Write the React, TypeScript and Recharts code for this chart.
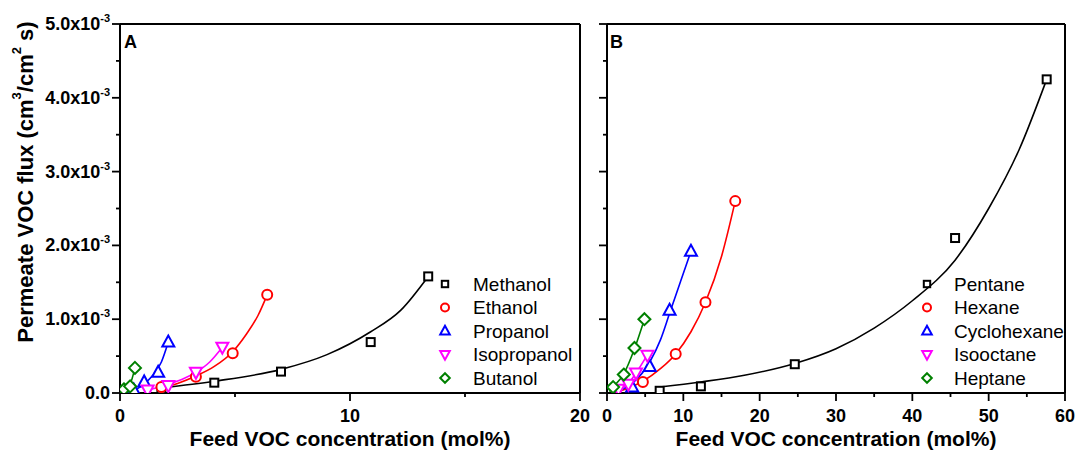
import React from 'react';
import { ComposedChart, Line, Scatter, XAxis, YAxis, ReferenceLine, Customized } from 'recharts';

type Pt = [number, number];

// Flux values are in units of 10^-3 cm3/cm2 s; concentrations in mol%
// Panel A (alcohols) – measured points
const methanolPts: Pt[] = [[1.8, 0.05], [4.1, 0.14], [7.0, 0.29], [10.9, 0.69], [13.4, 1.58]];
const ethanolPts: Pt[] = [[1.8, 0.08], [3.3, 0.22], [4.9, 0.54], [6.4, 1.33]];
const propanolPts: Pt[] = [[0.6, 0.04], [1.05, 0.15], [1.66, 0.28], [2.1, 0.69]];
const isopropanolPts: Pt[] = [[1.2, 0.04], [2.1, 0.10], [3.3, 0.28], [4.45, 0.62]];
const butanolPts: Pt[] = [[0.17, 0.05], [0.44, 0.09], [0.65, 0.34]];

// Panel A – fitted curves
const methanolFit: Pt[] = [[1.8, 0.07], [4.1, 0.16], [7.0, 0.32], [9.0, 0.52], [10.9, 0.83], [12.2, 1.12], [13.4, 1.58]];
const ethanolFit: Pt[] = [[1.8, 0.07], [2.5, 0.13], [3.3, 0.23], [4.1, 0.36], [4.9, 0.56], [5.5, 0.80], [6.0, 1.05], [6.4, 1.33]];
const propanolFit: Pt[] = [[0.6, 0.03], [1.0, 0.11], [1.4, 0.23], [1.8, 0.42], [2.1, 0.69]];
const isopropanolFit: Pt[] = [[1.2, 0.04], [2.1, 0.12], [2.8, 0.20], [3.3, 0.28], [3.9, 0.42], [4.45, 0.62]];
const butanolFit: Pt[] = [[0.17, 0.04], [0.44, 0.12], [0.65, 0.34]];

// Panel B (hydrocarbons) – measured points
const pentanePts: Pt[] = [[6.9, 0.03], [12.3, 0.09], [24.6, 0.39], [45.6, 2.1], [57.6, 4.25]];
const hexanePts: Pt[] = [[4.7, 0.15], [9.0, 0.53], [12.9, 1.23], [16.8, 2.6]];
const cyclohexanePts: Pt[] = [[3.3, 0.08], [5.6, 0.36], [8.2, 1.12], [11.0, 1.92]];
const isooctanePts: Pt[] = [[1.5, 0.05], [2.8, 0.12], [3.8, 0.27], [5.3, 0.51]];
const heptanePts: Pt[] = [[0.8, 0.08], [2.2, 0.25], [3.6, 0.61], [4.9, 1.0]];

// Panel B – fitted curves
const pentaneFit: Pt[] = [[6.9, 0.08], [12.3, 0.15], [18, 0.24], [24.6, 0.40], [30, 0.60], [35, 0.88], [40, 1.25], [45.6, 1.80], [50, 2.5], [54, 3.3], [57.6, 4.25]];
const hexaneFit: Pt[] = [[1.5, 0.02], [4.7, 0.16], [7, 0.33], [9, 0.53], [11, 0.83], [12.9, 1.23], [15, 1.85], [16.8, 2.6]];
const cyclohexaneFit: Pt[] = [[1.2, 0.02], [3.3, 0.13], [5.6, 0.42], [7, 0.72], [8.2, 1.08], [9.6, 1.5], [11, 1.92]];
const isooctaneFit: Pt[] = [[1.0, 0.03], [2.8, 0.13], [3.8, 0.27], [5.3, 0.52]];
const heptaneFit: Pt[] = [[0.3, 0.02], [0.8, 0.08], [2.2, 0.26], [3.6, 0.60], [4.9, 1.0]];

const yTicks = [0, 0.5, 1, 1.5, 2, 2.5, 3, 3.5, 4, 4.5, 5];
const xTicksA = [0, 5, 10, 15, 20];
const xTicksB = [0, 5, 10, 15, 20, 25, 30, 35, 40, 45, 50, 55, 60];

const FONT = '"Liberation Sans", Arial, sans-serif';

type Kind = 'square' | 'circle' | 'tri' | 'itri' | 'diamond';
interface Series { name: string; color: string; kind: Kind; pts: Pt[]; fit: Pt[] }

const seriesA: Series[] = [
  { name: 'Methanol', color: '#000000', kind: 'square', pts: methanolPts, fit: methanolFit },
  { name: 'Ethanol', color: '#ff0000', kind: 'circle', pts: ethanolPts, fit: ethanolFit },
  { name: 'Propanol', color: '#0000ff', kind: 'tri', pts: propanolPts, fit: propanolFit },
  { name: 'Isopropanol', color: '#ff00ff', kind: 'itri', pts: isopropanolPts, fit: isopropanolFit },
  { name: 'Butanol', color: '#008000', kind: 'diamond', pts: butanolPts, fit: butanolFit },
];
const seriesB: Series[] = [
  { name: 'Pentane', color: '#000000', kind: 'square', pts: pentanePts, fit: pentaneFit },
  { name: 'Hexane', color: '#ff0000', kind: 'circle', pts: hexanePts, fit: hexaneFit },
  { name: 'Cyclohexane', color: '#0000ff', kind: 'tri', pts: cyclohexanePts, fit: cyclohexaneFit },
  { name: 'Isooctane', color: '#ff00ff', kind: 'itri', pts: isooctanePts, fit: isooctaneFit },
  { name: 'Heptane', color: '#008000', kind: 'diamond', pts: heptanePts, fit: heptaneFit },
];

const toXY = (pts: Pt[]) => pts.map(([x, y]) => ({ x, y }));

function marker(kind: Kind, color: string, cx: number, cy: number, s = 1, fill = '#ffffff') {
  const sw = 2;
  if (kind === 'square') return <rect x={cx - 4 * s} y={cy - 4 * s} width={8 * s} height={8 * s} fill={fill} stroke={color} strokeWidth={sw} />;
  if (kind === 'circle') return <circle cx={cx} cy={cy} r={5 * s} fill={fill} stroke={color} strokeWidth={sw} />;
  if (kind === 'tri') return <polygon points={`${cx},${cy - 6.5 * s} ${cx - 6 * s},${cy + 4.5 * s} ${cx + 6 * s},${cy + 4.5 * s}`} fill={fill} stroke={color} strokeWidth={sw} />;
  if (kind === 'itri') return <polygon points={`${cx},${cy + 6.5 * s} ${cx - 6 * s},${cy - 4.5 * s} ${cx + 6 * s},${cy - 4.5 * s}`} fill={fill} stroke={color} strokeWidth={sw} />;
  return <polygon points={`${cx},${cy - 6 * s} ${cx + 6 * s},${cy} ${cx},${cy + 6 * s} ${cx - 6 * s},${cy}`} fill={fill} stroke={color} strokeWidth={sw} />;
}

const makeShape = (kind: Kind, color: string) => (p: any) => <g>{marker(kind, color, p.cx, p.cy)}</g>;

const XTick = (props: any) => {
  const { x, y, payload } = props;
  const v = payload.value;
  const major = v % 10 === 0;
  return (
    <g>
      <line x1={x} x2={x} y1={y} y2={y + (major ? 8 : 4)} stroke="#000" strokeWidth={1.8} />
      {major && (
        <text x={x} y={y + 29} textAnchor="middle" fontFamily={FONT} fontWeight="bold" fontSize={18} fill="#000">{v}</text>
      )}
    </g>
  );
};

const YTick = (props: any) => {
  const { x, y, payload, showLabels } = props;
  const v = payload.value;
  const major = Math.abs(v - Math.round(v)) < 1e-9;
  return (
    <g>
      <line x1={x - (major ? 8 : 4)} x2={x} y1={y} y2={y} stroke="#000" strokeWidth={1.8} />
      {major && showLabels && (
        <text x={x - 10} y={y + 6} textAnchor="end" fontFamily={FONT} fontWeight="bold" fontSize={18} fill="#000">
          {v === 0 ? '0.0' : (
            <>
              <tspan>{`${v.toFixed(1)}x10`}</tspan>
              <tspan dy={-8} fontSize={11}>-3</tspan>
            </>
          )}
        </text>
      )}
    </g>
  );
};

interface PanelProps {
  series: Series[];
  left: number;
  width: number;
  yAxisWidth: number;
  marginRight: number;
  xMax: number;
  xTicks: number[];
  showYLabels: boolean;
  letter: string;
  letterX: number;
  legendMarkerX: number;
  legendTextX: number;
}

const legendRows = [284, 307.5, 331, 354.5, 378];

function Panel(p: PanelProps) {
  const Extras = () => (
    <g>
      <text x={p.letterX} y={48} fontFamily={FONT} fontWeight="bold" fontSize={18} fill="#000">{p.letter}</text>
      {p.series.map((s, i) => (
        <g key={s.name}>
          {marker(s.kind, s.color, p.legendMarkerX, legendRows[i], 0.8)}
          <text x={p.legendTextX} y={legendRows[i] + 6.5} fontFamily={FONT} fontSize={19} fill="#000">{s.name}</text>
        </g>
      ))}
      {p.showYLabels && (
        <text
          x={25}
          y={182}
          transform="rotate(-90, 25, 182)"
          textAnchor="middle"
          dominantBaseline="central"
          fontFamily={FONT}
          fontWeight="bold"
          fontSize={22}
          fill="#000"
        >
          <tspan>Permeate VOC flux (cm</tspan>
          <tspan dy={-9} fontSize={13}>3</tspan>
          <tspan dy={9}>/cm</tspan>
          <tspan dy={-9} fontSize={13}>2</tspan>
          <tspan dy={9}> s)</tspan>
        </text>
      )}
      <text
        x={(p.yAxisWidth + p.width - p.marginRight) / 2}
        y={446}
        textAnchor="middle"
        fontFamily={FONT}
        fontWeight="bold"
        fontSize={21}
        fill="#000"
      >
        Feed VOC concentration (mol%)
      </text>
    </g>
  );
  return (
    <div style={{ position: 'absolute', left: p.left, top: 0 }}>
      <ComposedChart width={p.width} height={452} margin={{ top: 24, right: p.marginRight, bottom: 0, left: 0 }}>
        <XAxis
          type="number"
          dataKey="x"
          domain={[0, p.xMax]}
          ticks={p.xTicks}
          interval={0}
          tickSize={0}
          tickMargin={0}
          tickLine={false}
          tick={(tp: any) => <XTick {...tp} />}
          axisLine={{ stroke: '#000', strokeWidth: 2 }}
          height={59}
          allowDataOverflow
        />
        <YAxis
          type="number"
          dataKey="y"
          domain={[0, 5]}
          ticks={yTicks}
          interval={0}
          tickSize={0}
          tickMargin={0}
          tickLine={false}
          tick={(tp: any) => <YTick {...tp} showLabels={p.showYLabels} />}
          axisLine={{ stroke: '#000', strokeWidth: 2 }}
          width={p.yAxisWidth}
          allowDataOverflow
        />
        <ReferenceLine y={5} stroke="#000" strokeWidth={2} />
        <ReferenceLine x={p.xMax} stroke="#000" strokeWidth={2} />
        {p.series.map((s) => (
          <Line
            key={'fit-' + s.name}
            data={toXY(s.fit)}
            dataKey="y"
            type="monotone"
            stroke={s.color}
            strokeWidth={1.6}
            dot={false}
            activeDot={false}
            legendType="none"
            isAnimationActive={false}
          />
        ))}
        {p.series.map((s) => (
          <Scatter
            key={'pts-' + s.name}
            name={s.name}
            data={toXY(s.pts)}
            dataKey="y"
            fill="#ffffff"
            shape={makeShape(s.kind, s.color)}
            isAnimationActive={false}
          />
        ))}
        <Customized component={<Extras />} />
      </ComposedChart>
    </div>
  );
}

export default function App() {
  return (
    <div style={{ position: 'absolute', left: 0, top: 0, width: 1076, height: 452, background: '#fff' }}>
      <Panel
        series={seriesA}
        left={0}
        width={600}
        yAxisWidth={120}
        marginRight={20}
        xMax={20}
        xTicks={xTicksA}
        showYLabels={true}
        letter="A"
        letterX={124}
        legendMarkerX={445}
        legendTextX={473}
      />
      <Panel
        series={seriesB}
        left={587}
        width={489}
        yAxisWidth={20}
        marginRight={11}
        xMax={60}
        xTicks={xTicksB}
        showYLabels={false}
        letter="B"
        letterX={23}
        legendMarkerX={340}
        legendTextX={367}
      />
    </div>
  );
}
